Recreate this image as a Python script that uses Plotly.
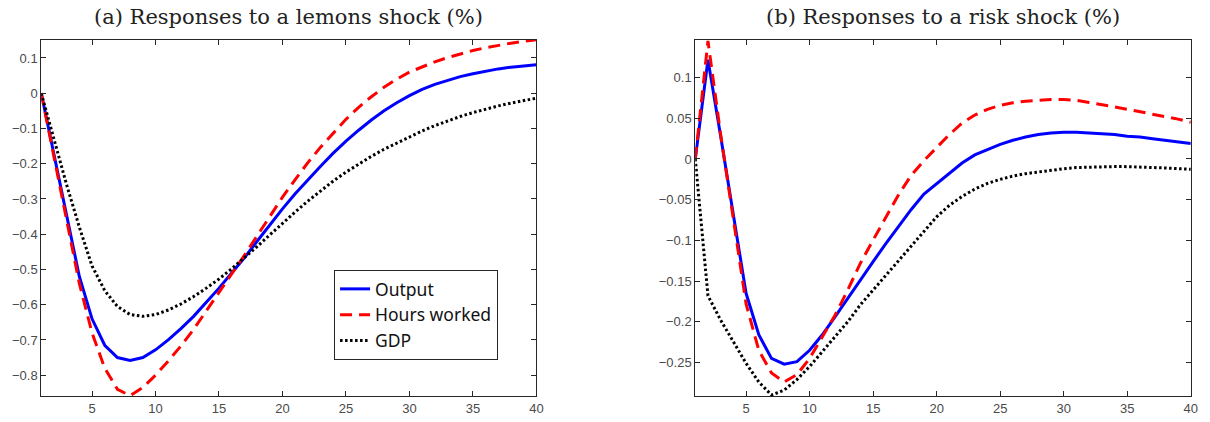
import plotly.graph_objects as go

periods = list(range(1, 41))

# Panel (a): responses to a lemons shock (%)
lemons_output = [0.0, -0.173, -0.347, -0.52, -0.64, -0.715, -0.75, -0.758, -0.75, -0.728,
                 -0.70, -0.668, -0.633, -0.594, -0.553, -0.51, -0.467, -0.42, -0.373, -0.328,
                 -0.285, -0.245, -0.207, -0.17, -0.136, -0.105, -0.076, -0.05, -0.027, -0.007,
                 0.011, 0.025, 0.037, 0.047, 0.055, 0.063, 0.069, 0.074, 0.078, 0.081]
lemons_hours = [0.0, -0.18, -0.37, -0.54, -0.68, -0.78, -0.84, -0.858, -0.835, -0.80,
                -0.76, -0.717, -0.67, -0.618, -0.565, -0.512, -0.46, -0.405, -0.35, -0.295,
                -0.245, -0.197, -0.153, -0.112, -0.074, -0.04, -0.01, 0.017, 0.04, 0.06,
                0.075, 0.089, 0.101, 0.112, 0.121, 0.129, 0.136, 0.142, 0.147, 0.152]
lemons_gdp = [0.0, -0.13, -0.26, -0.38, -0.49, -0.56, -0.605, -0.628, -0.633, -0.628,
              -0.615, -0.598, -0.577, -0.553, -0.527, -0.498, -0.467, -0.435, -0.402, -0.369,
              -0.337, -0.306, -0.277, -0.249, -0.224, -0.201, -0.179, -0.159, -0.141, -0.123,
              -0.107, -0.092, -0.078, -0.066, -0.055, -0.045, -0.036, -0.028, -0.021, -0.014]

# Panel (b): responses to a risk shock (%)
risk_output = [0.0, 0.122, 0.028, -0.07, -0.165, -0.216, -0.245, -0.252, -0.249, -0.235,
               -0.216, -0.194, -0.171, -0.149, -0.126, -0.104, -0.083, -0.062, -0.043, -0.030,
               -0.017, -0.005, 0.005, 0.012, 0.018, 0.023, 0.027, 0.030, 0.032, 0.033,
               0.033, 0.032, 0.031, 0.030, 0.028, 0.027, 0.025, 0.023, 0.021, 0.019]
risk_hours = [0.0, 0.145, 0.03, -0.072, -0.178, -0.235, -0.263, -0.274, -0.265, -0.245,
              -0.218, -0.192, -0.161, -0.128, -0.0995, -0.071, -0.044, -0.02, -0.002, 0.014,
              0.03, 0.044, 0.054, 0.061, 0.066, 0.069, 0.071, 0.072, 0.073, 0.073,
              0.072, 0.0695, 0.067, 0.064, 0.061, 0.058, 0.055, 0.052, 0.049, 0.045]
risk_gdp = [0.0, -0.168, -0.198, -0.224, -0.251, -0.274, -0.29, -0.284, -0.271, -0.255,
            -0.237, -0.218, -0.20, -0.179, -0.161, -0.1425, -0.124, -0.106, -0.088, -0.071,
            -0.057, -0.046, -0.037, -0.03, -0.025, -0.021, -0.018, -0.016, -0.0135, -0.012,
            -0.0105, -0.0098, -0.0094, -0.0093, -0.0094, -0.0097, -0.0102, -0.011, -0.0118, -0.0127]

series_names = ["Output", "Hours worked", "GDP"]
panel_titles = ["(a) Responses to a lemons shock (%)", "(b) Responses to a risk shock (%)"]
left_yticks = [0.1, 0, -0.1, -0.2, -0.3, -0.4, -0.5, -0.6, -0.7, -0.8]
right_yticks = [0.1, 0.05, 0, -0.05, -0.1, -0.15, -0.2, -0.25]
xticks = [5, 10, 15, 20, 25, 30, 35, 40]

W, H = 1210, 422
styles = [
    dict(color="#0000ff", width=3, dash="solid"),
    dict(color="#ff0000", width=3, dash="12px,7px"),
    dict(color="#000000", width=3, dash="2.5px,2.5px"),
]

fig = go.Figure()
panels = [
    ("x", "y", [lemons_output, lemons_hours, lemons_gdp], True),
    ("x2", "y2", [risk_output, risk_hours, risk_gdp], False),
]
for xa, ya, data, show in panels:
    for name, vals, st in zip(series_names, data, styles):
        fig.add_trace(go.Scatter(
            x=periods, y=vals, mode="lines", name=name, xaxis=xa, yaxis=ya,
            line=st, showlegend=show,
        ))

tickfont = dict(family="Liberation Sans, Arial, sans-serif", size=13, color="#4a4a4a")
axis_common = dict(
    showgrid=False, zeroline=False, showline=True, linecolor="#262626", linewidth=1,
    mirror="ticks", ticks="inside", ticklen=5, tickcolor="#262626", tickwidth=1,
    tickfont=tickfont,
)
ydom = [1 - 396 / H, 1 - 40 / H]
fig.update_layout(
    width=W, height=H, margin=dict(l=0, r=0, t=0, b=0),
    paper_bgcolor="white", plot_bgcolor="white",
    xaxis=dict(domain=[41.5 / W, 539.5 / W], range=[1, 40], tickvals=xticks,
               anchor="y", **axis_common),
    yaxis=dict(domain=ydom, range=[-0.859, 0.151], tickvals=left_yticks,
               anchor="x", **axis_common),
    xaxis2=dict(domain=[699.3 / W, 1197.7 / W], range=[1, 40], tickvals=xticks,
                anchor="y2", **axis_common),
    yaxis2=dict(domain=ydom, range=[-0.2912, 0.1462], tickvals=right_yticks,
                anchor="x2", **axis_common),
    legend=dict(
        x=336 / W, y=1 - 270 / H, xanchor="left", yanchor="top",
        bgcolor="white", bordercolor="#262626", borderwidth=1,
        font=dict(family="Noto Sans, Open Sans, sans-serif", size=17.5, color="#111111"),
        tracegroupgap=0, itemwidth=30,
    ),
    showlegend=True,
)

title_font = dict(family="DejaVu Serif, serif", size=21, color="#222222")
for title, cx in zip(panel_titles, [(41.5 + 539.5) / 2, (699.3 + 1197.7) / 2]):
    fig.add_annotation(
        text=title, x=cx / W, y=1 - 17 / H, xref="paper", yref="paper",
        xanchor="center", yanchor="middle", showarrow=False, font=title_font,
    )

fig.write_html("out.html")
